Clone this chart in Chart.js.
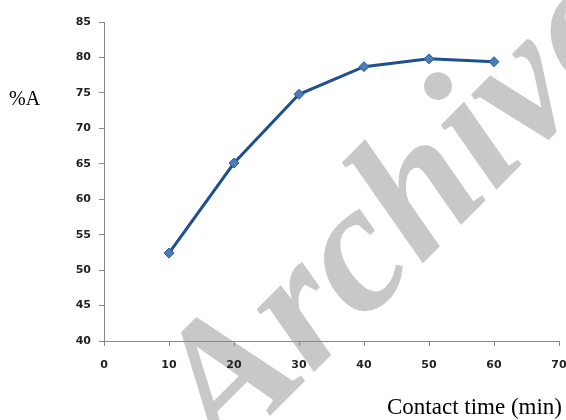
<!DOCTYPE html>
<html>
<head>
<meta charset="utf-8">
<script src="https://cdn.jsdelivr.net/npm/chart.js@4.4.1/dist/chart.umd.min.js"></script>
<style>
  html, body { margin: 0; padding: 0; background: #ffffff; }
  #wrap { width: 566px; height: 420px; position: relative; }
</style>
</head>
<body>
<div id="wrap"><canvas id="c" width="566" height="420"></canvas></div>
<script>
// Contact time (min) vs. percentage adsorbed
const contactTime = [10, 20, 30, 40, 50, 60];
const percentA = [52.4, 65.1, 74.8, 78.7, 79.8, 79.4];
const yLabel = '%A';
const xLabel = 'Contact time (min)';
const stampText = 'Archive';

// Large grey stamp behind the plot, plus the two axis captions
const decorations = {
  id: 'decorations',
  beforeDraw(chart) {
    const ctx = chart.ctx;
    ctx.save();
    ctx.translate(224, 462);
    ctx.rotate(-45 * Math.PI / 180);
    ctx.fillStyle = '#c8c8c8';
    ctx.font = 'italic bold 185px "Liberation Serif", serif';
    ctx.textBaseline = 'alphabetic';
    ctx.fillText(stampText, 0, 0);
    ctx.restore();
  },
  afterDraw(chart) {
    const ctx = chart.ctx;
    ctx.save();
    ctx.fillStyle = '#000000';
    ctx.textBaseline = 'alphabetic';
    ctx.font = '20px "Liberation Serif", serif';
    ctx.textAlign = 'left';
    ctx.fillText(yLabel, 9, 105);
    ctx.font = '23px "Liberation Serif", serif';
    ctx.textAlign = 'right';
    ctx.fillText(xLabel, 562, 414);
    ctx.restore();
  }
};

new Chart(document.getElementById('c'), {
  type: 'line',
  data: {
    datasets: [{
      data: contactTime.map((t, i) => ({ x: t, y: percentA[i] })),
      borderColor: '#1f4f8f',
      borderWidth: 3,
      pointStyle: 'rectRot',
      pointRadius: 5,
      pointHoverRadius: 5,
      pointBackgroundColor: '#4a7ebb',
      pointBorderColor: '#2b5a96',
      pointBorderWidth: 1,
      tension: 0
    }]
  },
  options: {
    responsive: false,
    animation: false,
    layout: { padding: { left: 0, right: 7, top: 22, bottom: 0 } },
    plugins: { legend: { display: false }, tooltip: { enabled: false } },
    scales: {
      x: {
        type: 'linear',
        min: 0, max: 70,
        ticks: { stepSize: 10, color: '#222', padding: 13, font: { family: 'DejaVu Sans', size: 11, weight: 'bold' } },
        grid: { display: true, drawOnChartArea: false, tickLength: 5, color: '#888' },
        border: { color: '#888', width: 1 },
        afterFit(s) { s.height = 79; s.paddingRight = 0; s.paddingLeft = 0; }
      },
      y: {
        min: 40, max: 85,
        ticks: { stepSize: 5, color: '#222', padding: 8, font: { family: 'DejaVu Sans', size: 11, weight: 'bold' } },
        grid: { display: true, drawOnChartArea: false, tickLength: 5, color: '#888' },
        border: { color: '#888', width: 1 },
        afterFit(s) { s.width = 104; s.paddingTop = 0; s.paddingBottom = 0; }
      }
    }
  },
  plugins: [decorations]
});
</script>
</body>
</html>
